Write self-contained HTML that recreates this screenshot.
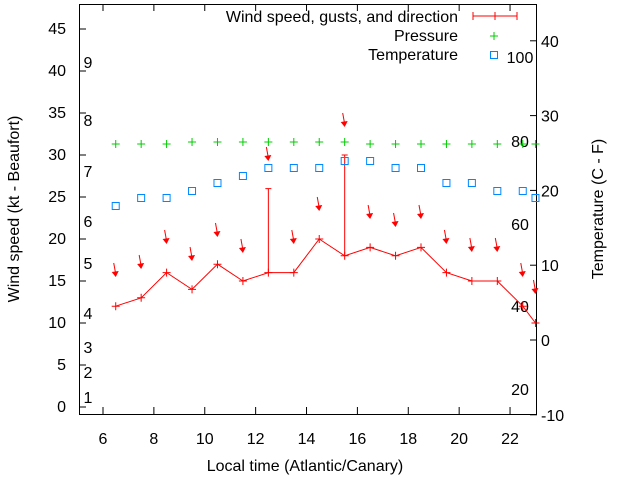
<!DOCTYPE html>
<html><head><meta charset="utf-8"><style>
html,body{margin:0;padding:0;background:#fff;}
svg{display:block;font-family:"Liberation Sans",sans-serif;}
</style></head><body>
<svg id="s" width="640" height="480" viewBox="0 0 640 480" xmlns="http://www.w3.org/2000/svg"></svg>
<script>
var s=document.getElementById('s'),h='';
function X(t){return 103+(t-6)*25.44;}
function Y(v){return 407-v*8.4;}
function YR(v){return 340-v*7.48;}
var F=16;
h+='<rect x="79.5" y="4.5" width="457" height="410" fill="none" stroke="#000"/>';
for(var v=0;v<=45;v+=5){var y=Y(v);h+='<line x1="79" y1="'+y+'" x2="86" y2="'+y+'" stroke="#000"/><text x="66" y="'+(y+5)+'" font-size="'+F+'" text-anchor="end">'+v+'</text>';}
for(var v=-10;v<=40;v+=10){var y=YR(v);h+='<line x1="530" y1="'+y+'" x2="537" y2="'+y+'" stroke="#000"/><text x="541" y="'+(y+6)+'" font-size="'+F+'">'+v+'</text>';}
for(var t=6;t<=22;t+=2){var x=X(t);h+='<line x1="'+x+'" y1="414" x2="'+x+'" y2="407" stroke="#000"/><line x1="'+x+'" y1="4" x2="'+x+'" y2="11" stroke="#000"/><text x="'+x+'" y="444" font-size="'+F+'" text-anchor="middle">'+t+'</text>';}
var bf=[[9,62],[8,120],[7,171],[6,221],[5,263],[4,313],[3,347],[2,372],[1,397]];
bf.forEach(function(b){h+='<text x="88" y="'+(b[1]+6)+'" font-size="'+F+'" text-anchor="middle">'+b[0]+'</text>';});
var fh=[[100,57],[80,141],[60,224],[40,306],[20,389]];
fh.forEach(function(b){h+='<text x="520" y="'+(b[1]+6)+'" font-size="'+F+'" text-anchor="middle">'+b[0]+'</text>';});
h+='<text x="305" y="471" font-size="'+F+'" text-anchor="middle">Local time (Atlantic/Canary)</text>';
h+='<text transform="translate(19,209) rotate(-90)" font-size="'+F+'" text-anchor="middle">Wind speed (kt - Beaufort)</text>';
h+='<text transform="translate(603,209) rotate(-90)" font-size="'+F+'" text-anchor="middle">Temperature (C - F)</text>';
var ts=[6.5,7.5,8.5,9.5,10.5,11.5,12.5,13.5,14.5,15.5,16.5,17.5,18.5,19.5,20.5,21.5,22.5,23];
var ws=[12,13,16,14,17,15,16,16,20,18,19,18,19,16,15,15,12,10];
var pr=[144,144,144,142,142,142,142,142,142,142,144,144,144,144,144,144,144,144];
var tp=[206,198,198,191,183,176,168,168,168,161,161,168,168,183,183,191,191,198];
var ar=[276,268,243,260,236,252,160,243,210,126,218,226,218,243,251,251,276,293];
var pts=ts.map(function(t,i){return X(t).toFixed(1)+','+Y(ws[i]).toFixed(1);}).join(' ');
h+='<polyline points="'+pts+'" fill="none" stroke="#f00" stroke-width="1"/>';
ts.forEach(function(t,i){var x=X(t),y=Y(ws[i]);h+='<path d="M'+(x-4)+' '+y+'h8M'+x+' '+(y-4)+'v8" stroke="#f00"/>';});
[[12.5,16,26],[15.5,18,30]].forEach(function(g){var x=X(g[0]);h+='<path d="M'+x+' '+Y(g[1])+'V'+Y(g[2])+'M'+(x-3)+' '+Y(g[2])+'h6" stroke="#f00"/>';});
ts.forEach(function(t,i){var x=X(t);h+='<path d="M'+(x-4)+' '+pr[i]+'h8M'+x+' '+(pr[i]-4)+'v8" stroke="#0c0"/>';
h+='<rect x="'+(x-3.5)+'" y="'+(tp[i]-3.5)+'" width="7" height="7" fill="none" stroke="#08f"/>';
var ax=x,ay=ar[i];h+='<path d="M'+(ax-2)+' '+(ay-13)+'L'+ax+' '+(ay-2)+'" stroke="#f00"/><path d="M'+(ax-4)+' '+(ay-4)+'L'+(ax+3)+' '+(ay-5)+'L'+ax+' '+(ay+1)+'Z" fill="#f00"/>';});
h+='<text x="458" y="22" font-size="'+F+'" text-anchor="end">Wind speed, gusts, and direction</text><path d="M473 16h44M473 12v8M517 12v8M495 12v8" stroke="#f00"/>';
h+='<text x="458" y="41" font-size="'+F+'" text-anchor="end">Pressure</text><path d="M490 36h8M494 32v8" stroke="#0c0"/>';
h+='<text x="458" y="60" font-size="'+F+'" text-anchor="end">Temperature</text><rect x="490.5" y="51.5" width="7" height="7" fill="none" stroke="#08f"/>';
s.innerHTML=h;
</script>
</body></html>
